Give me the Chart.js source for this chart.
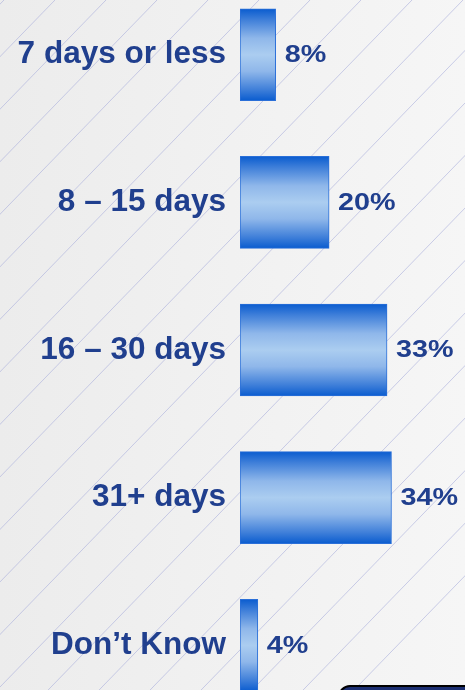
<!DOCTYPE html>
<html>
<head>
<meta charset="utf-8">
<script src="https://cdn.jsdelivr.net/npm/chart.js@4.4.1/dist/chart.umd.min.js"></script>
<style>
  html, body {
    margin: 0;
    padding: 0;
    width: 465px;
    height: 690px;
    overflow: hidden;
    background: #f1f1f1;
  }
  #wrap {
    position: absolute;
    left: 0;
    top: -52px;
    width: 465px;
    height: 804px;
  }
  #tab {
    position: absolute;
    left: 338px;
    top: 685px;
    width: 200px;
    height: 30px;
    border-radius: 12px;
    background: #1c2f72;
    border: 2px solid #000;
  }
</style>
</head>
<body>
<div id="wrap"><canvas id="chart" width="465" height="804"></canvas></div>
<div id="tab"></div>
<script>
document.addEventListener('DOMContentLoaded', function () {
    const ctx = document.getElementById('chart').getContext('2d');

    const categories = ['7 days or less', '8 – 15 days', '16 – 30 days', '31+ days', 'Don’t Know'];
    const percentages = [8, 20, 33, 34, 4];

    const textBlue = '#203f8e';

    // light background with thin diagonal hatching
    const backdrop = {
        id: 'backdrop',
        beforeDraw(chart) {
            const c = chart.ctx;
            const w = chart.width;
            const h = chart.height;
            c.save();
            const bg = c.createLinearGradient(0, 0, w, 0);
            bg.addColorStop(0, '#ececec');
            bg.addColorStop(1, '#f6f6f6');
            c.fillStyle = bg;
            c.fillRect(0, 0, w, h);
            c.strokeStyle = 'rgba(170, 175, 220, 0.75)';
            c.lineWidth = 0.8;
            const slope = 1.03;
            const top = 52; // canvas sits 52px above the page
            for (let k = -20; k < 20; k++) {
                const x0 = 55 + 51 * k;
                c.beginPath();
                c.moveTo(x0 + top / slope, 0);
                c.lineTo(x0 - (h - top) / slope, h);
                c.stroke();
            }
            c.restore();
        }
    };

    // percentage text to the right of each bar
    const valueLabels = {
        id: 'valueLabels',
        afterDatasetsDraw(chart) {
            const c = chart.ctx;
            const meta = chart.getDatasetMeta(0);
            c.save();
            c.fillStyle = textBlue;
            c.font = 'bold 23px "Liberation Sans", Arial, sans-serif';
            c.textBaseline = 'middle';
            c.textAlign = 'left';
            meta.data.forEach((bar, i) => {
                c.save();
                c.translate(bar.x + 9, bar.y + 1);
                c.scale(1.25, 1);
                c.fillText(percentages[i] + '%', 0, 0);
                c.restore();
            });
            c.restore();
        }
    };

    function barFill(context) {
        const chart = context.chart;
        const y = chart.scales.y;
        const cy = y ? y.getPixelForValue(context.dataIndex) : NaN;
        if (!isFinite(cy)) return '#5a8ee0';
        const g = chart.ctx.createLinearGradient(0, cy - 46, 0, cy + 46);
        g.addColorStop(0, '#0a5ccf');
        g.addColorStop(0.12, '#3f7fd9');
        g.addColorStop(0.32, '#8fb7ea');
        g.addColorStop(0.5, '#abcdf0');
        g.addColorStop(0.68, '#8fb7ea');
        g.addColorStop(0.88, '#3f7fd9');
        g.addColorStop(1, '#0a5ccf');
        return g;
    }

    new Chart(ctx, {
        type: 'bar',
        data: {
            labels: categories,
            datasets: [{
                data: percentages,
                backgroundColor: barFill,
                borderColor: '#2a6fd8',
                borderWidth: 1,
                borderSkipped: false,
                barThickness: 92
            }]
        },
        options: {
            indexAxis: 'y',
            responsive: false,
            animation: false,
            devicePixelRatio: 1,
            layout: { padding: 0 },
            plugins: {
                legend: { display: false },
                tooltip: { enabled: false }
            },
            scales: {
                x: {
                    display: false,
                    min: 0,
                    max: 50.5
                },
                y: {
                    grid: { display: false, drawTicks: false },
                    border: { display: false },
                    ticks: {
                        color: textBlue,
                        padding: 14,
                        font: { family: '"Liberation Sans", Arial, sans-serif', size: 31.5, weight: 'bold' }
                    },
                    afterFit(scale) {
                        scale.width = 240;
                    }
                }
            }
        },
        plugins: [backdrop, valueLabels]
    });
});
</script>
</body>
</html>
